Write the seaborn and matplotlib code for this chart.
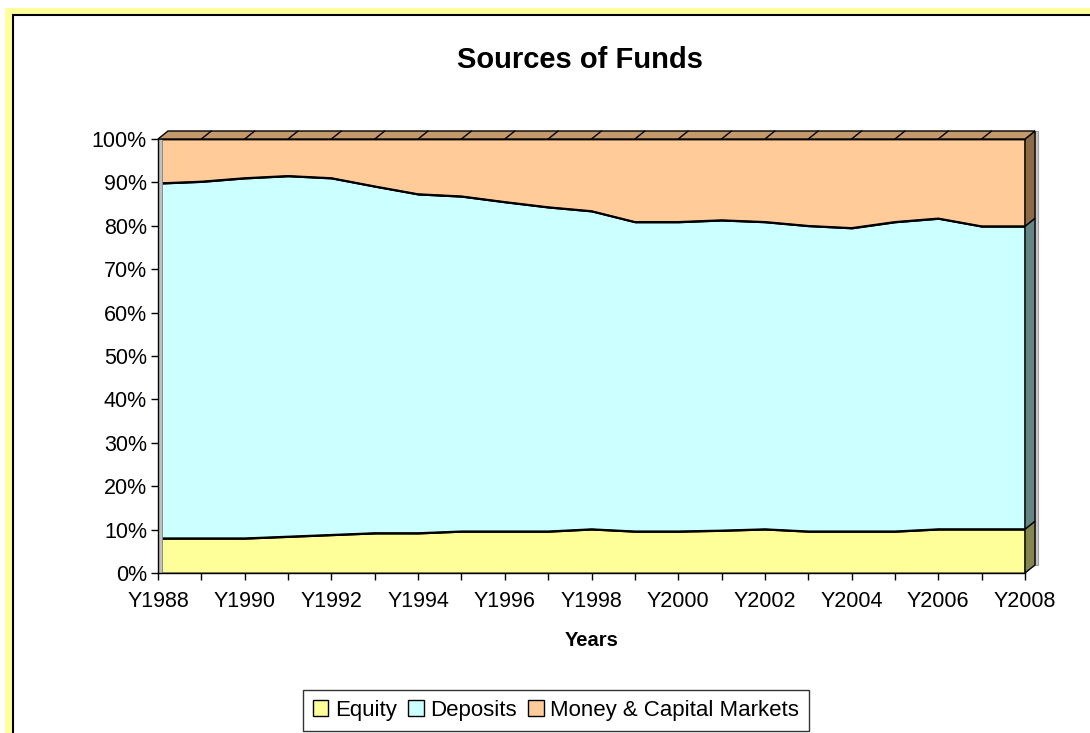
"""Sources of Funds: 100% stacked area chart, Excel-style."""
import matplotlib
matplotlib.use("Agg")
import matplotlib.pyplot as plt
import matplotlib.transforms as mtransforms
from matplotlib.patches import Polygon, Rectangle
import numpy as np
import pandas as pd
import seaborn as sns

YEARS = list(range(1988, 2009))
EQUITY = [8.0, 8.0, 8.0, 8.4, 8.8, 9.2, 9.2, 9.6, 9.6, 9.6, 10.1,
          9.6, 9.6, 9.8, 10.1, 9.6, 9.6, 9.6, 10.1, 10.1, 10.1]
DEPOSITS = [81.8, 82.2, 83.0, 83.1, 82.2, 79.9, 78.1, 77.2, 75.9, 74.7, 73.3,
            71.3, 71.3, 71.5, 70.8, 70.4, 69.9, 71.3, 71.6, 69.8, 69.8]
MARKETS = [round(100 - e - d, 1) for e, d in zip(EQUITY, DEPOSITS)]
SERIES = ["Equity", "Deposits", "Money & Capital Markets"]
COLORS = ["#FFFF99", "#CCFFFF", "#FFCC99"]
SIDE_COLORS = ["#858552", "#668585", "#8C6A48"]
TOP_COLOR = "#C49A6C"

df = pd.DataFrame({"year": YEARS, "Equity": EQUITY, "Deposits": DEPOSITS,
                   "Money & Capital Markets": MARKETS})

sns.set_style("white")
plt.rcParams["font.family"] = ["Liberation Sans", "DejaVu Sans"]
plt.rcParams["text.color"] = "black"
plt.rcParams["xtick.color"] = "black"
plt.rcParams["ytick.color"] = "black"
plt.rcParams["axes.labelcolor"] = "black"

W, H = 1090, 733
fig = plt.figure(figsize=(W / 100, H / 100), dpi=100)

# yellow frame with white panel
fig.patches.append(Rectangle((5 / W, 0), 1, (H - 8) / H, transform=fig.transFigure,
                             facecolor="#FFFF99", edgecolor="none", zorder=-3))
fig.patches.append(Rectangle((13 / W, -0.01), 1.1, (H - 15) / H + 0.01,
                             transform=fig.transFigure, facecolor="white",
                             edgecolor="black", linewidth=1.5, zorder=-2))

ax = fig.add_axes([158 / W, 1 - 573 / H, (1025 - 158) / W, (573 - 139) / H])
ax.patch.set_alpha(0)

x = np.array(YEARS, dtype=float)
layers = np.vstack([df[s].to_numpy() for s in SERIES])
ax.stackplot(x, layers, colors=COLORS, labels=SERIES, edgecolor="black",
             linewidth=1.3, zorder=2)
cum = np.cumsum(layers, axis=0)
for top in cum[:-1]:
    sns.lineplot(x=x, y=top, color="black", linewidth=1.3, ax=ax, zorder=3,
                 legend=False)

ax.set_xlim(x[0], x[-1])
ax.set_ylim(0, 100)

# 3D depth faces
depth = mtransforms.offset_copy(ax.transData, fig=fig, x=10, y=8, units="dots")
bottoms = np.vstack([np.zeros(len(x)), cum[:-1]])
for i in range(len(SERIES)):
    lo, hi = bottoms[i, -1], cum[i, -1]
    pts_front = ax.transData.transform([[x[-1], lo], [x[-1], hi]])
    pts_back = depth.transform([[x[-1], hi], [x[-1], lo]])
    verts = np.vstack([pts_front, pts_back])
    ax.add_patch(Polygon(verts, closed=True, transform=None, facecolor=SIDE_COLORS[i],
                         edgecolor="black", linewidth=1.0, clip_on=False, zorder=4))
front_top = ax.transData.transform([[x[0], 100], [x[-1], 100]])
back_top = depth.transform([[x[-1], 100], [x[0], 100]])
ax.add_patch(Polygon(np.vstack([front_top, back_top]), closed=True, transform=None,
                     facecolor=TOP_COLOR, edgecolor="black", linewidth=1.0,
                     clip_on=False, zorder=4))
for xi in x[1:-1]:
    p0 = ax.transData.transform([[xi, 100]])[0]
    p1 = depth.transform([[xi, 100]])[0]
    ax.plot([p0[0], p1[0]], [p0[1], p1[1]], transform=None, color="black",
            linewidth=1.0, clip_on=False, zorder=5)
# back wall edge on the right, thin grey wall on the left
wall_lo = depth.transform([[x[-1], 0]])[0]
wall_hi = depth.transform([[x[-1], 100]])[0]
ax.add_patch(Rectangle((wall_lo[0], wall_lo[1]), 3, wall_hi[1] - wall_lo[1],
                       transform=None, facecolor="#C8C8C8", edgecolor="#A0A0A0",
                       linewidth=0.8, clip_on=False, zorder=1))
left_lo = ax.transData.transform([[x[0], 0]])[0]
left_hi = ax.transData.transform([[x[0], 100]])[0]
ax.add_patch(Rectangle((left_lo[0], left_lo[1]), 4, left_hi[1] - left_lo[1],
                       transform=None, facecolor="#C0C0C0", edgecolor="#808080",
                       linewidth=0.6, clip_on=False, zorder=3.5))

for side in ["top", "right"]:
    ax.spines[side].set_visible(False)
for side in ["left", "bottom"]:
    ax.spines[side].set_color("black")
    ax.spines[side].set_linewidth(1.0)
    ax.spines[side].set_zorder(6)

ax.set_yticks(range(0, 101, 10))
ax.set_yticklabels([f"{v}%" for v in range(0, 101, 10)], fontsize=15.5)
ax.set_xticks(x)
ax.set_xticklabels([f"Y{y}" if (y - YEARS[0]) % 2 == 0 else "" for y in YEARS],
                   fontsize=15.5)
ax.tick_params(axis="y", direction="out", length=5, width=1, color="black",
               left=True, pad=3)
ax.tick_params(axis="x", direction="out", length=5, width=1, color="black",
               bottom=True, pad=8)

ax.set_xlabel("Years", fontsize=14.5, fontweight="bold", labelpad=14)
ax.set_ylabel("")
fig.text(580 / W, 1 - 60 / H, "Sources of Funds",
         ha="center", va="center", fontsize=21, fontweight="bold")

handles, labels = ax.get_legend_handles_labels()
leg = fig.legend(handles[:3], labels[:3], loc="lower center",
                 bbox_to_anchor=(556 / W, 0.0), ncol=3, fontsize=16,
                 frameon=True, fancybox=False, edgecolor="black",
                 handlelength=0.7, handleheight=0.7, handletextpad=0.3,
                 columnspacing=0.5, borderpad=0.45, borderaxespad=0.1)
leg.get_frame().set_linewidth(1.0)
for h in leg.legend_handles:
    h.set_edgecolor("black")
    h.set_linewidth(1.0)

fig.savefig("out.png", dpi=100)
